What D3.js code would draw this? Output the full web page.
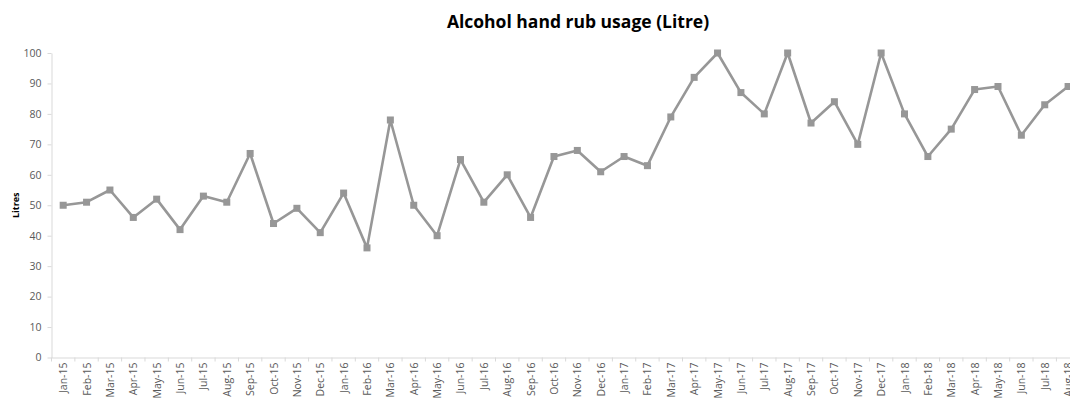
<!DOCTYPE html>
<html><head><meta charset="utf-8">
<script src="https://cdn.jsdelivr.net/npm/d3@7"></script>
<style>body{margin:0;background:#fff}svg{display:block}</style>
</head><body><svg id="c" width="1070" height="402"></svg>
<script>
const categories = ["Jan-15","Feb-15","Mar-15","Apr-15","May-15","Jun-15","Jul-15","Aug-15","Sep-15","Oct-15","Nov-15","Dec-15",
"Jan-16","Feb-16","Mar-16","Apr-16","May-16","Jun-16","Jul-16","Aug-16","Sep-16","Oct-16","Nov-16","Dec-16",
"Jan-17","Feb-17","Mar-17","Apr-17","May-17","Jun-17","Jul-17","Aug-17","Sep-17","Oct-17","Nov-17","Dec-17",
"Jan-18","Feb-18","Mar-18","Apr-18","May-18","Jun-18","Jul-18","Aug-18"];
const litres = [50,51,55,46,52,42,53,51,67,44,49,41,
54,36,78,50,40,65,51,60,46,66,68,61,
66,63,79,92,100,87,80,100,77,84,70,100,
80,66,75,88,89,73,83,89];
const yTicks = [0,10,20,30,40,50,60,70,80,90,100];
const title = "Alcohol hand rub usage (Litre)";
const yTitle = "Litres";

const svg = d3.select("#c");
const left = 51.5, step = 23.37;
const x = d3.scaleBand().domain(categories).range([left, left + step*categories.length]).padding(0);
const y = d3.scaleLinear().domain([0,100]).range([357.5, 53]);
const font = "'Open Sans', 'Liberation Sans', sans-serif";
const axisCol = "#d9d9d9", textCol = "#595959";

svg.append("text").attr("x", 578).attr("y", 28).attr("text-anchor","middle")
  .attr("font-family", font).attr("font-weight","bold").attr("font-size", 17.5).attr("fill","#000").text(title);

// y axis
const yAxis = svg.append("g").attr("transform",`translate(${left},0)`)
  .call(d3.axisLeft(y).tickValues(yTicks).tickSize(4).tickSizeOuter(0).tickPadding(6));
yAxis.select(".domain").attr("stroke", axisCol);
yAxis.selectAll(".tick line").attr("stroke", axisCol);
yAxis.selectAll("text").attr("font-family", font).attr("font-size", 10.5).attr("fill", textCol);

svg.append("text").attr("transform",`translate(19,${(y(0)+y(100))/2}) rotate(-90)`).attr("text-anchor","middle")
  .attr("font-family", font).attr("font-weight","bold").attr("font-size", 9).attr("fill","#000").text(yTitle);

// x axis
const xAxis = svg.append("g").attr("transform",`translate(0,${y(0)})`)
  .call(d3.axisBottom(x).tickSize(0).tickPadding(0));
xAxis.select(".domain").attr("stroke", axisCol);
xAxis.selectAll(".tick text").attr("font-family", font).attr("font-size", 10.5).attr("fill", textCol)
  .attr("text-anchor","end").attr("dy", null)
  .attr("transform","translate(-4,5) rotate(-90)").attr("dominant-baseline","central")
  .attr("x",0).attr("y",0);
xAxis.selectAll(".tick text").attr("transform", "translate(0,5) rotate(-90)");
// category boundary ticks
const bounds = categories.map(c => x(c)).concat([x(categories[categories.length-1]) + x.bandwidth()]);
svg.append("g").selectAll("line").data(bounds).join("line")
  .attr("x1", d=>d).attr("x2", d=>d).attr("y1", y(0)).attr("y2", y(0)+4).attr("stroke", axisCol);

const cx = (c) => x(c) + x.bandwidth()/2;
const line = d3.line().x((d,i)=>cx(categories[i])).y(d=>y(d));
svg.append("path").datum(litres).attr("d", line).attr("fill","none")
  .attr("stroke","#979797").attr("stroke-width",2.6).attr("stroke-linejoin","round");
svg.append("g").selectAll("rect").data(litres).join("rect")
  .attr("x",(d,i)=>cx(categories[i])-3.5).attr("y",d=>y(d)-3.5).attr("width",7).attr("height",7)
  .attr("fill","#979797");
</script></body></html>
